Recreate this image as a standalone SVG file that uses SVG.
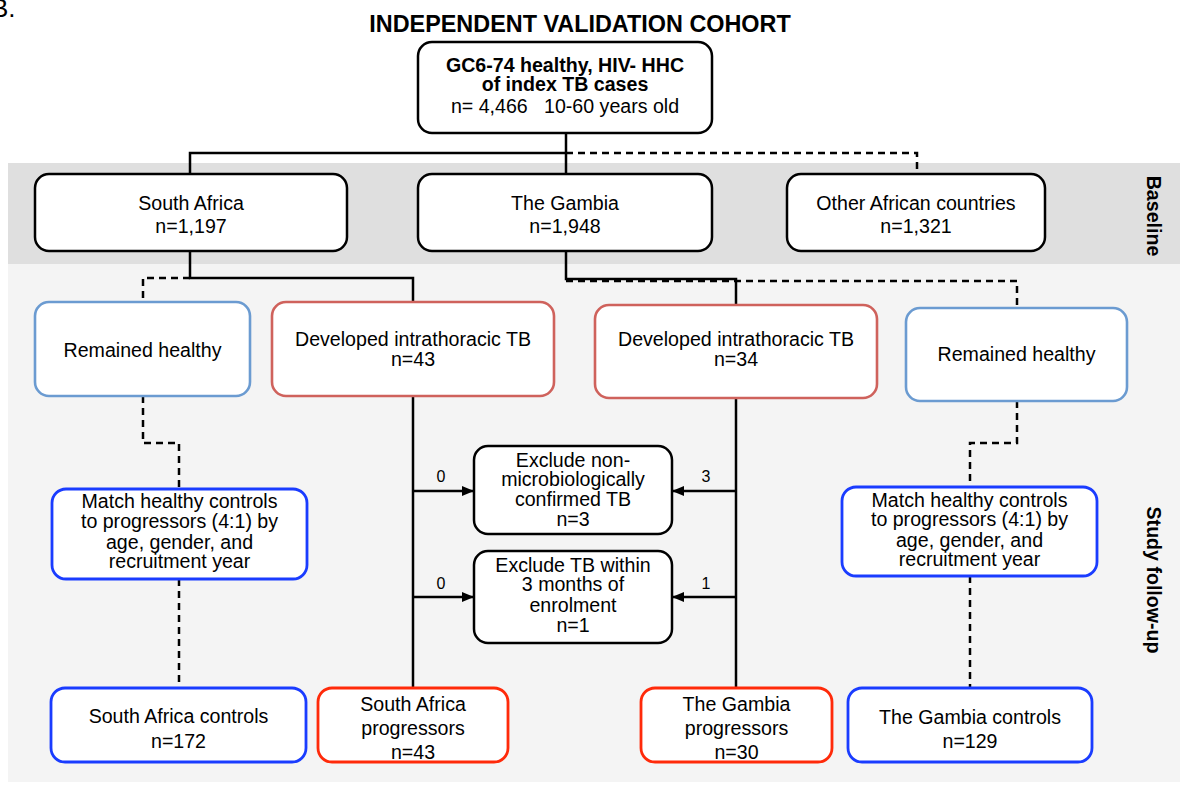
<svg xmlns="http://www.w3.org/2000/svg" width="1180" height="785" viewBox="0 0 1180 785">
<style>
text { font-family: "Liberation Sans", Arial, Helvetica, sans-serif; font-size: 19.6px; fill: #000; text-anchor: middle; }
.b { font-weight: bold; }
.pre { white-space: pre; }
.box { fill: #fff; stroke: #000; stroke-width: 2.5; }
.hb { fill: #fff; stroke: #6b9bd1; stroke-width: 2.6; }
.tb { fill: #fff; stroke: #cf625c; stroke-width: 2.6; }
.mb { fill: #fff; stroke: #1a3cff; stroke-width: 2.8; }
.pb { fill: #fff; stroke: #ff2a0a; stroke-width: 2.8; }
.ln { fill: none; stroke: #000; stroke-width: 2.5; }
.dl { fill: none; stroke: #000; stroke-width: 2.5; stroke-dasharray: 7 5; }
.lbl { font-size: 16px; }
</style>
<defs>
<marker id="arr" viewBox="0 0 12 10" refX="12" refY="5" markerWidth="12" markerHeight="10" markerUnits="userSpaceOnUse" orient="auto">
<path d="M0,0 L12,5 L0,10 z" fill="#000"/>
</marker>
</defs>
<rect x="0" y="0" width="1180" height="785" fill="#fff"/>
<rect x="8" y="163" width="1172" height="101" fill="#dfdfdf"/>
<rect x="8" y="264" width="1172" height="518" fill="#f4f4f4"/>
<text x="-9" y="17" style="font-size:26px;text-anchor:start">B.</text>
<text class="b" x="580" y="32" style="font-size:23.4px">INDEPENDENT VALIDATION COHORT</text>
<text class="b" transform="translate(1147,216) rotate(90)">Baseline</text>
<text class="b" transform="translate(1147,580) rotate(90)">Study follow-up</text>

<g id="connectors">
<path class="ln" d="M566 133 V174"/>
<path class="ln" d="M566 153 H190 V174"/>
<path class="dl" d="M566 153 H917 V174"/>
<path class="ln" d="M190 251 V278 H413 V302"/>
<path class="dl" d="M190 278 H143 V302"/>
<path class="dl" d="M143 396 V443 H179 V489"/>
<path class="dl" d="M179 579 V688"/>
<path class="ln" d="M413 396 V688"/>
<path class="ln" d="M413 491 H474" marker-end="url(#arr)"/>
<path class="ln" d="M413 597 H474" marker-end="url(#arr)"/>
<path class="ln" d="M566 251 V279 H736 V305"/>
<path class="dl" d="M566 281 H1017 V308"/>
<path class="ln" d="M736 398 V688"/>
<path class="ln" d="M736 491 H672" marker-end="url(#arr)"/>
<path class="ln" d="M736 597 H672" marker-end="url(#arr)"/>
<path class="dl" d="M1017 401 V443 H970 V487"/>
<path class="dl" d="M970 576 V688"/>
<text class="lbl" x="441" y="482">0</text>
<text class="lbl" x="441" y="589">0</text>
<text class="lbl" x="706" y="482">3</text>
<text class="lbl" x="706" y="589">1</text>
</g>

<g id="cohort">
<rect class="box" x="418" y="42" width="294" height="91" rx="14"/>
<text class="b" x="565" y="72">GC6-74 healthy, HIV- HHC</text>
<text class="b" x="565" y="91">of index TB cases</text>
<text class="pre" x="565" y="113">n= 4,466   10-60 years old</text>
</g>
<g id="south-africa">
<rect class="box" x="35" y="174" width="312" height="77" rx="14"/>
<text x="191" y="210">South Africa</text>
<text x="191" y="233">n=1,197</text>
</g>
<g id="gambia">
<rect class="box" x="418" y="174" width="294" height="77" rx="14"/>
<text x="565" y="210">The Gambia</text>
<text x="565" y="233">n=1,948</text>
</g>
<g id="other">
<rect class="box" x="787" y="174" width="258" height="77" rx="14"/>
<text x="916" y="210">Other African countries</text>
<text x="916" y="233">n=1,321</text>
</g>
<g id="sa-healthy">
<rect class="hb" x="35" y="302" width="215" height="94" rx="14"/>
<text x="142.5" y="357">Remained healthy</text>
</g>
<g id="sa-tb">
<rect class="tb" x="272" y="302" width="282" height="94" rx="14"/>
<text x="413" y="346">Developed intrathoracic TB</text>
<text x="413" y="366">n=43</text>
</g>
<g id="sa-match">
<rect class="mb" x="52" y="489" width="255" height="90" rx="14"/>
<text x="179.5" y="508">Match healthy controls</text>
<text x="179.5" y="528">to progressors (4:1) by</text>
<text x="179.5" y="549">age, gender, and</text>
<text x="179.5" y="568">recruitment year</text>
</g>
<g id="sa-controls">
<rect class="mb" x="51" y="688" width="255" height="74" rx="14"/>
<text x="178.5" y="723">South Africa controls</text>
<text x="178.5" y="748">n=172</text>
</g>
<g id="sa-progressors">
<rect class="pb" x="318" y="688" width="190" height="74" rx="14"/>
<text x="413" y="711">South Africa</text>
<text x="413" y="735">progressors</text>
<text x="413" y="759">n=43</text>
</g>
<g id="exclude-micro">
<rect class="box" x="474" y="446" width="198" height="88" rx="14"/>
<text x="573" y="467">Exclude non-</text>
<text x="573" y="486">microbiologically</text>
<text x="573" y="506">confirmed TB</text>
<text x="573" y="526">n=3</text>
</g>
<g id="exclude-3m">
<rect class="box" x="474" y="551" width="198" height="92" rx="14"/>
<text x="573" y="572">Exclude TB within</text>
<text x="573" y="591">3 months of</text>
<text x="573" y="612">enrolment</text>
<text x="573" y="632">n=1</text>
</g>
<g id="g-tb">
<rect class="tb" x="595" y="305" width="282" height="93" rx="14"/>
<text x="736" y="346">Developed intrathoracic TB</text>
<text x="736" y="366">n=34</text>
</g>
<g id="g-healthy">
<rect class="hb" x="906" y="308" width="221" height="93" rx="14"/>
<text x="1016.5" y="361">Remained healthy</text>
</g>
<g id="g-match">
<rect class="mb" x="842" y="487" width="255" height="89" rx="14"/>
<text x="969.5" y="507">Match healthy controls</text>
<text x="969.5" y="526">to progressors (4:1) by</text>
<text x="969.5" y="547">age, gender, and</text>
<text x="969.5" y="566">recruitment year</text>
</g>
<g id="g-controls">
<rect class="mb" x="848" y="688" width="244" height="74" rx="14"/>
<text x="970" y="724">The Gambia controls</text>
<text x="970" y="748">n=129</text>
</g>
<g id="g-progressors">
<rect class="pb" x="641" y="688" width="191" height="74" rx="14"/>
<text x="736.5" y="711">The Gambia</text>
<text x="736.5" y="735">progressors</text>
<text x="736.5" y="759">n=30</text>
</g>
</svg>
